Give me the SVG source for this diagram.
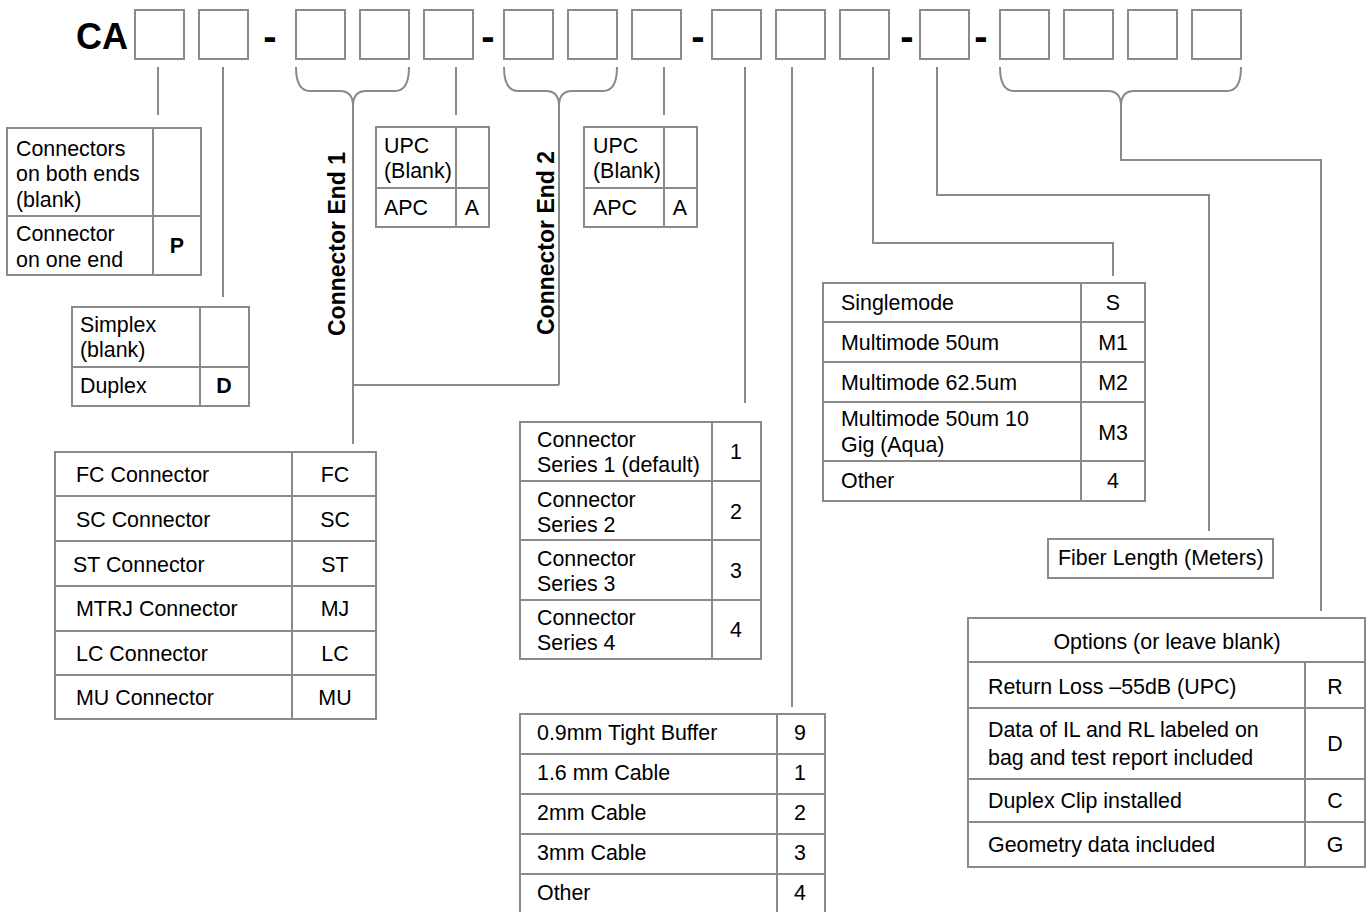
<svg xmlns="http://www.w3.org/2000/svg" width="1369" height="912" viewBox="0 0 1369 912">
<style>
text{font-family:"Liberation Sans",Arial,sans-serif;fill:#000}
.t{font-size:21.4px}
.c{font-size:21.4px;text-anchor:middle}
.b{font-weight:bold}
.vt{font-size:23px;font-weight:bold;text-anchor:middle}
.box{fill:#fff;stroke:#8a8a8a;stroke-width:2}
.grid{stroke:#8a8a8a;stroke-width:2;fill:none}
.ln{stroke:#8a8a8a;stroke-width:2;fill:none}
</style>
<rect width="1369" height="912" fill="#fff"/>
<g id="code">
<text x="76" y="49" style="font-size:36px;font-weight:bold">CA</text>
<g class="ln">
<rect class="box" x="135" y="10" width="49" height="49"/>
<rect class="box" x="199" y="10" width="49" height="49"/>
<rect class="box" x="296" y="10" width="49" height="49"/>
<rect class="box" x="360" y="10" width="49" height="49"/>
<rect class="box" x="424" y="10" width="49" height="49"/>
<rect class="box" x="504" y="10" width="49" height="49"/>
<rect class="box" x="568" y="10" width="49" height="49"/>
<rect class="box" x="632" y="10" width="49" height="49"/>
<rect class="box" x="712" y="10" width="49" height="49"/>
<rect class="box" x="776" y="10" width="49" height="49"/>
<rect class="box" x="840" y="10" width="49" height="49"/>
<rect class="box" x="920" y="10" width="49" height="49"/>
<rect class="box" x="1000" y="10" width="49" height="49"/>
<rect class="box" x="1064" y="10" width="49" height="49"/>
<rect class="box" x="1128" y="10" width="49" height="49"/>
<rect class="box" x="1192" y="10" width="49" height="49"/>
</g>
<g style="font-size:40px;font-weight:bold;text-anchor:middle">
<text x="270" y="50">-</text>
<text x="488" y="50">-</text>
<text x="698" y="50">-</text>
<text x="907" y="50">-</text>
<text x="981" y="50">-</text>
</g>
</g>
<g id="connectors" class="ln">
<path d="M158,67V115"/>
<path d="M223,67V297"/>
<path d="M296,67Q296,91 310,91H340Q353,91 353,106M409,67Q409,91 395,91H366Q353,91 353,106V444M353,385H559"/>
<path d="M456,67V115"/>
<path d="M504,67Q504,91 518,91H546Q559,91 559,106M617,67Q617,91 603,91H572Q559,91 559,106V385"/>
<path d="M664,67V115"/>
<path d="M745,67V403"/>
<path d="M792,67V707"/>
<path d="M873,67V243H1113V276"/>
<path d="M937,67V195H1209V531"/>
<path d="M1000,67Q1000,91 1014,91H1108Q1121,91 1121,106M1241,67Q1241,91 1227,91H1134Q1121,91 1121,106V160H1321V611"/>
</g>
<g id="ends">
<rect class="box" x="7" y="128" width="194" height="147"/>
<path class="grid" d="M153,128V275M7,216H201"/>
<text class="t" x="16" y="156">Connectors</text>
<text class="t" x="16" y="181">on both ends</text>
<text class="t" x="16" y="207">(blank)</text>
<text class="t" x="16" y="241">Connector</text>
<text class="t" x="16" y="267">on one end</text>
<text class="c b" x="177" y="253">P</text>
</g>
<g id="simplex">
<rect class="box" x="72" y="307" width="177" height="99"/>
<path class="grid" d="M200,307V406M72,367H249"/>
<text class="t" x="80" y="332">Simplex</text>
<text class="t" x="80" y="357">(blank)</text>
<text class="t" x="80" y="393">Duplex</text>
<text class="c b" x="224" y="393">D</text>
</g>
<g id="end1-label"><text class="vt" transform="translate(345,244) rotate(-90)">Connector End 1</text></g>
<g id="end2-label"><text class="vt" transform="translate(554,243) rotate(-90)">Connector End 2</text></g>
<g id="polish1">
<rect class="box" x="376" y="127" width="113" height="100"/>
<path class="grid" d="M456,127V227M376,188H489"/>
<text class="t" x="384" y="153">UPC</text>
<text class="t" x="384" y="178">(Blank)</text>
<text class="t" x="384" y="215">APC</text>
<text class="c" x="472" y="215">A</text>
</g>
<g id="polish2">
<rect class="box" x="584" y="127" width="113" height="100"/>
<path class="grid" d="M664,127V227M584,188H697"/>
<text class="t" x="593" y="153">UPC</text>
<text class="t" x="593" y="178">(Blank)</text>
<text class="t" x="593" y="215">APC</text>
<text class="c" x="680" y="215">A</text>
</g>
<g id="connector-types">
<rect class="box" x="55" y="452" width="321" height="267"/>
<path class="grid" d="M292,452V719M55,496H376M55,541H376M55,586H376M55,631H376M55,675H376"/>
<text class="t" x="76" y="482">FC Connector</text>
<text class="t" x="76" y="527">SC Connector</text>
<text class="t" x="73" y="572">ST Connector</text>
<text class="t" x="76" y="616">MTRJ Connector</text>
<text class="t" x="76" y="661">LC Connector</text>
<text class="t" x="76" y="705">MU Connector</text>
<text class="c" x="335" y="482">FC</text>
<text class="c" x="335" y="527">SC</text>
<text class="c" x="335" y="572">ST</text>
<text class="c" x="335" y="616">MJ</text>
<text class="c" x="335" y="661">LC</text>
<text class="c" x="335" y="705">MU</text>
</g>
<g id="series">
<rect class="box" x="520" y="422" width="241" height="237"/>
<path class="grid" d="M712,422V659M520,481H761M520,540H761M520,600H761"/>
<text class="t" x="537" y="447">Connector</text>
<text class="t" x="537" y="472">Series 1 (default)</text>
<text class="t" x="537" y="507">Connector</text>
<text class="t" x="537" y="532">Series 2</text>
<text class="t" x="537" y="566">Connector</text>
<text class="t" x="537" y="591">Series 3</text>
<text class="t" x="537" y="625">Connector</text>
<text class="t" x="537" y="650">Series 4</text>
<text class="c" x="736" y="459">1</text>
<text class="c" x="736" y="519">2</text>
<text class="c" x="736" y="578">3</text>
<text class="c" x="736" y="637">4</text>
</g>
<g id="cable">
<rect class="box" x="520" y="714" width="305" height="200"/>
<path class="grid" d="M777,714V914M520,754H825M520,794H825M520,834H825M520,874H825"/>
<text class="t" x="537" y="740">0.9mm Tight Buffer</text>
<text class="t" x="537" y="780">1.6 mm Cable</text>
<text class="t" x="537" y="820">2mm Cable</text>
<text class="t" x="537" y="860">3mm Cable</text>
<text class="t" x="537" y="900">Other</text>
<text class="c" x="800" y="740">9</text>
<text class="c" x="800" y="780">1</text>
<text class="c" x="800" y="820">2</text>
<text class="c" x="800" y="860">3</text>
<text class="c" x="800" y="900">4</text>
</g>
<g id="fiber">
<rect class="box" x="823" y="283" width="322" height="218"/>
<path class="grid" d="M1081,283V501M823,322H1145M823,362H1145M823,402H1145M823,461H1145"/>
<text class="t" x="841" y="310">Singlemode</text>
<text class="t" x="841" y="350">Multimode 50um</text>
<text class="t" x="841" y="390">Multimode 62.5um</text>
<text class="t" x="841" y="426">Multimode 50um 10</text>
<text class="t" x="841" y="452">Gig (Aqua)</text>
<text class="t" x="841" y="488">Other</text>
<text class="c" x="1113" y="310">S</text>
<text class="c" x="1113" y="350">M1</text>
<text class="c" x="1113" y="390">M2</text>
<text class="c" x="1113" y="440">M3</text>
<text class="c" x="1113" y="488">4</text>
</g>
<g id="length">
<rect class="box" x="1048" y="539" width="225" height="39"/>
<text class="t" x="1058" y="565">Fiber Length (Meters)</text>
</g>
<g id="options">
<rect class="box" x="968" y="618" width="397" height="249"/>
<path class="grid" d="M1305,662V867M968,662H1365M968,708H1365M968,779H1365M968,822H1365"/>
<text class="c" x="1167" y="649">Options (or leave blank)</text>
<text class="t" x="988" y="694">Return Loss –55dB (UPC)</text>
<text class="t" x="988" y="737">Data of IL and RL labeled on</text>
<text class="t" x="988" y="765">bag and test report included</text>
<text class="t" x="988" y="808">Duplex Clip installed</text>
<text class="t" x="988" y="852">Geometry data included</text>
<text class="c" x="1335" y="694">R</text>
<text class="c" x="1335" y="751">D</text>
<text class="c" x="1335" y="808">C</text>
<text class="c" x="1335" y="852">G</text>
</g>
</svg>
